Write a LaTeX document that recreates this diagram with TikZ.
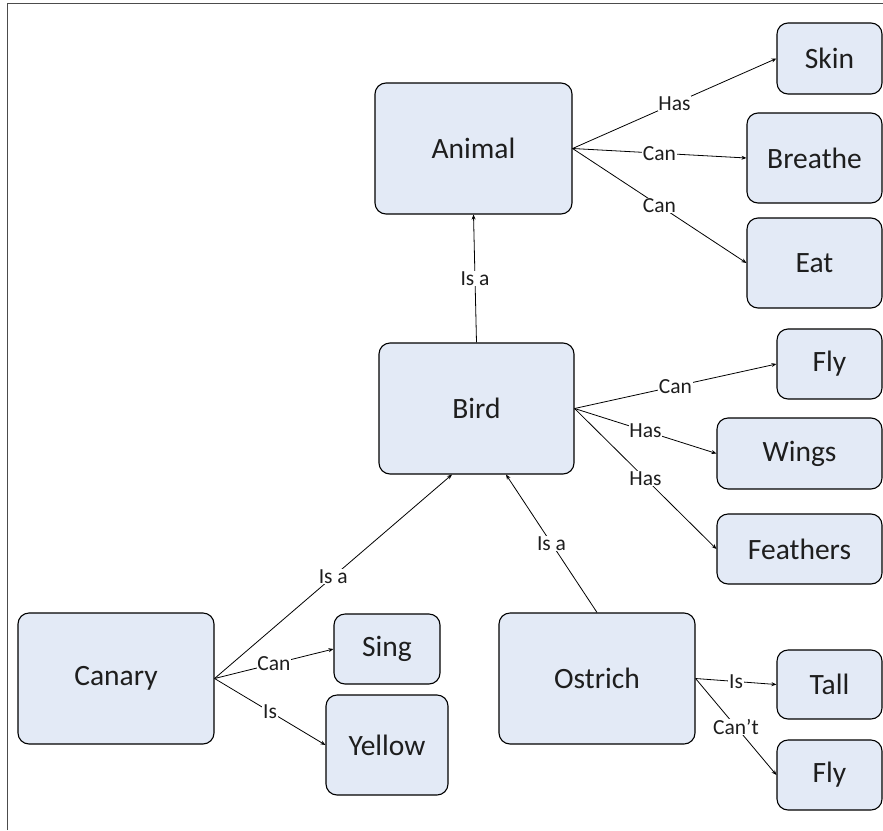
\documentclass[tikz,border=0pt]{standalone}
\usepackage{fontspec}
\setmainfont{Carlito}
\usetikzlibrary{arrows.meta}
\definecolor{boxfill}{RGB}{227,234,246}
\definecolor{txt}{RGB}{30,30,30}
\tikzset{
  concept/.style={draw=black, line width=1.1pt, fill=boxfill, rounded corners=11pt,
    inner sep=0pt, text=txt, font=\fontsize{29.5}{32}\selectfont},
  rel/.style={draw=black, line width=0.8pt, -{Stealth[length=5pt,width=4pt]}},
  lbl/.style={midway, fill=white, inner sep=0.6pt, text=txt, font=\fontsize{21.5}{24}\selectfont},
  frame/.style={draw=black!70, line width=1pt}
}
\begin{document}
\begin{tikzpicture}[x=1pt,y=-1pt]
\useasboundingbox (0,0) rectangle (883,830);
\draw[frame] (7,830) -- (7,3) -- (883,3);
% concept boxes
\node[concept, minimum width=197pt, minimum height=131pt] (Animal) at (473.5,148.5) {Animal};
\node[concept, minimum width=105pt, minimum height=71pt] (Skin) at (829.5,58.5) {Skin};
\node[concept, minimum width=135pt, minimum height=90pt] (Breathe) at (814.5,158) {Breathe};
\node[concept, minimum width=135pt, minimum height=90pt] (Eat) at (814.5,263) {Eat};
\node[concept, minimum width=195pt, minimum height=131pt] (Bird) at (476.5,408.5) {Bird};
\node[concept, minimum width=105pt, minimum height=70pt] (Fly) at (829.5,364) {Fly};
\node[concept, minimum width=165pt, minimum height=71pt] (Wings) at (799.5,453.5) {Wings};
\node[concept, minimum width=165pt, minimum height=70pt] (Feathers) at (799.5,549) {Feathers};
\node[concept, minimum width=196pt, minimum height=131pt] (Canary) at (116,678.5) {Canary};
\node[concept, minimum width=106pt, minimum height=70pt] (Sing) at (387,649) {Sing};
\node[concept, minimum width=122pt, minimum height=100pt] (Yellow) at (387,745) {Yellow};
\node[concept, minimum width=196pt, minimum height=131pt] (Ostrich) at (597,678.5) {Ostrich};
\node[concept, minimum width=105pt, minimum height=69pt] (Tall) at (829.5,684.5) {Tall};
\node[concept, minimum width=105pt, minimum height=70pt] (NoFly) at (829.5,775) {Fly};
% relations
\draw[rel] (Animal.east) -- node[lbl] {Has} (Skin.west);
\draw[rel] (Animal.east) -- node[lbl] {Can} (Breathe.west);
\draw[rel] (Animal.east) -- node[lbl] {Can} (Eat.west);
\draw[rel] (Bird.north) -- node[lbl] {Is a} (Animal.south);
\draw[rel] (Bird.east) -- node[lbl] {Can} (Fly.west);
\draw[rel] (Bird.east) -- node[lbl] {Has} (Wings.west);
\draw[rel] (Bird.east) -- node[lbl] {Has} (Feathers.west);
\draw[rel] (Canary.east) -- node[lbl] {Is a} ([xshift=-24.5pt]Bird.south);
\draw[rel] (Ostrich.north) -- node[lbl] {Is a} ([xshift=29.5pt]Bird.south);
\draw[rel] (Canary.east) -- node[lbl] {Can} (Sing.west);
\draw[rel] (Canary.east) -- node[lbl] {Is} (Yellow.west);
\draw[rel] (Ostrich.east) -- node[lbl] {Is} (Tall.west);
\draw[rel] (Ostrich.east) -- node[lbl] {Can’t} (NoFly.west);
\end{tikzpicture}
\end{document}
